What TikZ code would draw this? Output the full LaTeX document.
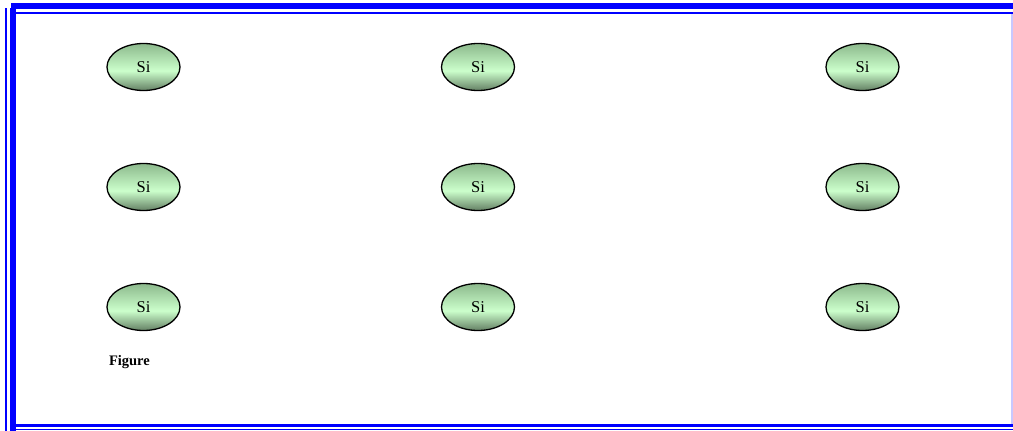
\documentclass[tikz,border=0pt]{standalone}
\usepackage{fontspec}
\setmainfont{Liberation Serif}
\usetikzlibrary{shapes.geometric}
\definecolor{pureblue}{RGB}{0,0,255}
\definecolor{lightblue}{RGB}{200,200,255}
\definecolor{gtop}{RGB}{140,185,140}
\definecolor{gmid}{RGB}{204,255,204}
\definecolor{gbot}{RGB}{100,128,100}
\pgfdeclareverticalshading{atomshade}{100bp}{color(0bp)=(gbot); color(25bp)=(gbot); color(46bp)=(gmid); color(75bp)=(gtop); color(100bp)=(gtop)}
\tikzset{
  atom/.style={ellipse, draw=black, line width=1.3pt, minimum width=73pt, minimum height=47pt,
    inner sep=0pt, shading=atomshade,
    font=\fontsize{16.5}{18}\selectfont},
  thickb/.style={draw=none, fill=pureblue},
  thinb/.style={draw=none, fill=pureblue},
}
\begin{document}
\begin{tikzpicture}[x=1pt,y=-1pt]
\useasboundingbox (0,0) rectangle (1013,431);
\fill[white] (0,0) rectangle (1013,431);
% frame
\fill[thickb] (11,3) rectangle (1013,9);
\fill[thinb] (16,11.5) rectangle (1013,13.5);
\fill[thickb] (10,8) rectangle (16,431);
\fill[thinb] (5,8) rectangle (6.8,431);
\fill[thickb] (16,424) rectangle (1013,427);
\fill[thinb] (16,428.5) rectangle (1013,430);
\fill[lightblue] (1011,13.5) rectangle (1012.5,424);
% atoms
\foreach \r/\y in {1/67,2/187,3/307}{
  \node[atom] (a\r1) at (143.5,\y) {\raisebox{-1pt}{Si}};
  \node[atom] (a\r2) at (478,\y) {\raisebox{-1pt}{Si}};
  \node[atom] (a\r3) at (862.5,\y) {\raisebox{-1pt}{Si}};
}
\node[anchor=west, font=\bfseries\fontsize{14.5}{16}\selectfont] (fig) at (105.5,362) {Figure};
\end{tikzpicture}
\end{document}
